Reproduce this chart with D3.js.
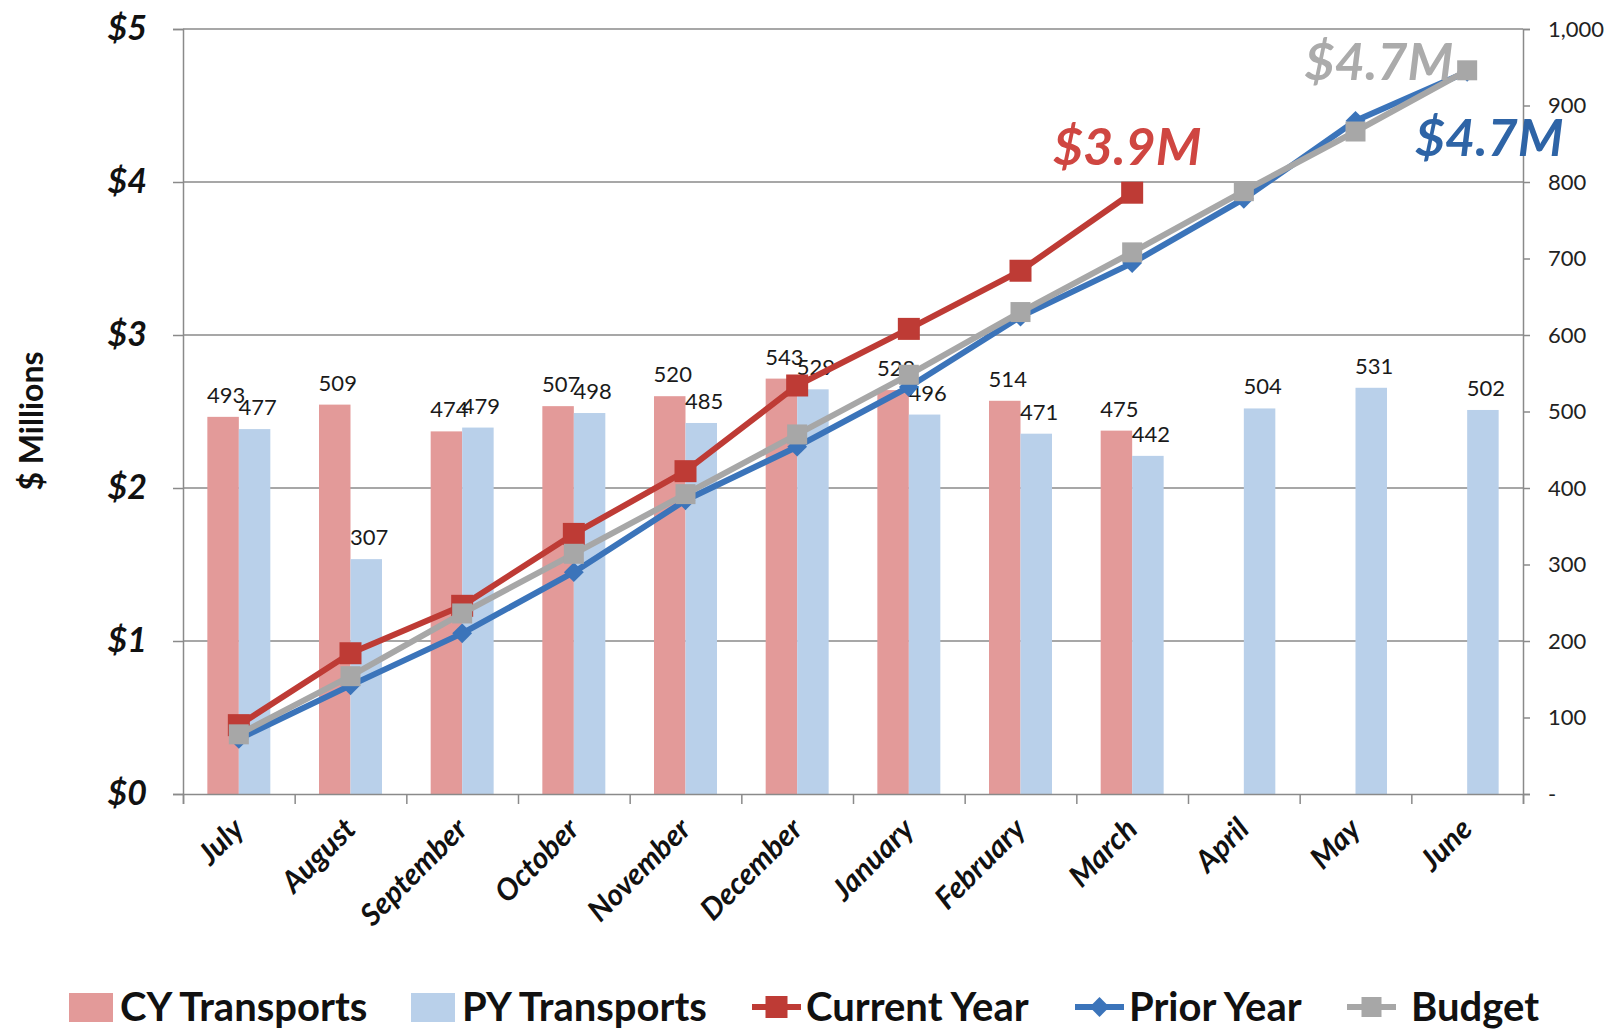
<!DOCTYPE html>
<html><head><meta charset="utf-8">
<script src="https://cdn.jsdelivr.net/npm/d3@7"></script>
<style>
  body { margin: 0; background: #fff; }
  svg { display: block; }
  text { font-family: Lato, "Open Sans", sans-serif; }
</style>
</head><body>
<svg id="chart" width="1610" height="1029"></svg>
<script>
// Monthly transports (bars, right axis) and cumulative spend in $ millions (lines, left axis)
const months = ["July", "August", "September", "October", "November", "December",
                "January", "February", "March", "April", "May", "June"];
const cyTransports = [493, 509, 474, 507, 520, 543, 528, 514, 475, null, null, null];
const pyTransports = [477, 307, 479, 498, 485, 529, 496, 471, 442, 504, 531, 502];
const currentYear  = [0.45, 0.92, 1.23, 1.70, 2.11, 2.67, 3.04, 3.42, 3.93, null, null, null];
const priorYear    = [0.36, 0.71, 1.05, 1.45, 1.92, 2.27, 2.66, 3.12, 3.47, 3.89, 4.40, 4.72];
const budget       = [0.39, 0.77, 1.18, 1.57, 1.96, 2.35, 2.74, 3.15, 3.54, 3.94, 4.33, 4.73];
const dollarTicks  = [0, 1, 2, 3, 4, 5];
const countTicks   = [0, 100, 200, 300, 400, 500, 600, 700, 800, 900, 1000];
const legendItems  = ["CY Transports", "PY Transports", "Current Year", "Prior Year", "Budget"];

const W = 1610, H = 1029;
const m = { left: 183, right: 87, top: 29, bottom: 235 };
const svg = d3.select("#chart");

const x = d3.scaleBand().domain(months).range([m.left, W - m.right]).padding(0);
const xEdge = d3.scaleLinear().domain([0, months.length]).range([m.left, W - m.right]);
const yL = d3.scaleLinear().domain([0, 5]).range([H - m.bottom, m.top]);
const yR = d3.scaleLinear().domain([0, 1000]).range([H - m.bottom, m.top]);
const sub = d3.scaleBand().domain(["cy", "py"]).range([0, x.bandwidth() * 0.564]);
const subOff = (x.bandwidth() - x.bandwidth() * 0.564) / 2;

const C = {
  cyBar: "#E39A99", pyBar: "#B9D0EA",
  red: "#BE3B35", blue: "#3B74BA", gray: "#A7A7A7",
  redLbl: "#CF4641", blueLbl: "#2E64A6", grayLbl: "#ABABAB",
  grid: "#8A8A8A"
};

// gridlines
svg.append("g").selectAll("line").data(dollarTicks.filter(d => d > 0)).join("line")
  .attr("x1", m.left).attr("x2", W - m.right)
  .attr("y1", d => yL(d)).attr("y2", d => yL(d))
  .attr("stroke", C.grid).attr("stroke-width", 1.5);

// bars
const bars = svg.append("g");
const barSeries = [["cy", cyTransports, C.cyBar], ["py", pyTransports, C.pyBar]];
barSeries.forEach(([key, vals, col]) => {
  bars.selectAll(null).data(vals.map((v, i) => ({ v, i })).filter(d => d.v != null)).join("rect")
    .attr("x", d => x(months[d.i]) + subOff + sub(key))
    .attr("width", sub.bandwidth())
    .attr("y", d => yR(d.v))
    .attr("height", d => yR(0) - yR(d.v))
    .attr("fill", col);
});
barSeries.forEach(([key, vals]) => {
  bars.selectAll(null).data(vals.map((v, i) => ({ v, i })).filter(d => d.v != null)).join("text")
    .attr("x", d => x(months[d.i]) + subOff + sub(key) + sub.bandwidth() / 2 + 3)
    .attr("y", d => yR(d.v) - 14)
    .attr("text-anchor", "middle")
    .attr("font-size", 22).attr("fill", "#1a1a1a")
    .text(d => d.v);
});

// axes
const axL = svg.append("g").attr("transform", `translate(${m.left},0)`)
  .call(d3.axisLeft(yL).tickValues(dollarTicks).tickSize(10).tickPadding(26).tickFormat(d => "$" + d));
axL.selectAll("text").attr("font-size", 34).attr("font-weight", 700).attr("font-style", "italic").attr("fill", "#111");

const axR = svg.append("g").attr("transform", `translate(${W - m.right},0)`)
  .call(d3.axisRight(yR).tickValues(countTicks).tickSize(7).tickPadding(18)
    .tickFormat(d => d === 0 ? "-" : d3.format(",")(d)));
axR.selectAll("text").attr("font-size", 22).attr("fill", "#222");

const axB = svg.append("g").attr("transform", `translate(0,${H - m.bottom})`)
  .call(d3.axisBottom(xEdge).tickValues(d3.range(months.length + 1)).tickSize(10).tickFormat(""));

[axL, axR, axB].forEach(a => {
  a.select(".domain").attr("stroke", C.grid).attr("stroke-width", 1.5);
  a.selectAll(".tick line").attr("stroke", C.grid).attr("stroke-width", 1.5);
});

// month labels
svg.append("g").selectAll("text").data(months).join("text")
  .attr("transform", d => `translate(${x(d) + x.bandwidth() / 2 + 7},${H - m.bottom + 37}) rotate(-45)`)
  .attr("text-anchor", "end")
  .attr("font-size", 30).attr("font-weight", 700).attr("font-style", "italic").attr("fill", "#111")
  .text(d => d);

// y title
svg.append("text")
  .attr("transform", `translate(43,421) rotate(-90)`)
  .attr("text-anchor", "middle")
  .attr("font-size", 32).attr("font-weight", 700).attr("fill", "#111")
  .text("$ Millions");

// cumulative lines
const cx = i => x(months[i]) + x.bandwidth() / 2;
const line = d3.line().defined(d => d != null).x((d, i) => cx(i)).y(d => yL(d));
const lineSeries = [
  { vals: currentYear, col: C.red, marker: "square", size: 22 },
  { vals: priorYear, col: C.blue, marker: "diamond", size: 14 },
  { vals: budget, col: C.gray, marker: "square", size: 20 }
];
function drawMarker(g, kind, size, col, px, py) {
  if (kind === "square") {
    g.append("rect").attr("x", px - size / 2).attr("y", py - size / 2)
      .attr("width", size).attr("height", size).attr("fill", col);
  } else {
    g.append("rect").attr("x", -size / 2).attr("y", -size / 2)
      .attr("width", size).attr("height", size).attr("fill", col)
      .attr("transform", `translate(${px},${py}) rotate(45)`);
  }
}
lineSeries.forEach(s => {
  const g = svg.append("g");
  g.append("path").datum(s.vals).attr("d", line)
    .attr("fill", "none").attr("stroke", s.col).attr("stroke-width", 6).attr("stroke-linejoin", "round");
  s.vals.forEach((v, i) => { if (v != null) drawMarker(g, s.marker, s.size, s.col, cx(i), yL(v)); });
});

// end-of-series value callouts
const lastIdx = arr => arr.reduce((a, v, i) => v != null ? i : a, -1);
const fmtM = v => "$" + v.toFixed(1) + "M";
const callouts = [
  { vals: currentYear, col: C.redLbl, dx: -5, dy: -28, anchor: "middle" },
  { vals: budget, col: C.grayLbl, dx: -14, dy: 10, anchor: "end" },
  { vals: priorYear, col: C.blueLbl, dx: 22, dy: 84, anchor: "middle" }
];
callouts.forEach(c => {
  const i = lastIdx(c.vals);
  svg.append("text")
    .attr("x", cx(i) + c.dx).attr("y", yL(c.vals[i]) + c.dy)
    .attr("text-anchor", c.anchor)
    .attr("font-size", 52).attr("font-weight", 700).attr("font-style", "italic")
    .attr("fill", c.col)
    .text(fmtM(c.vals[i]));
});

// legend
const legendX = [69, 411, 752, 1075, 1347];
const lg = svg.append("g").attr("transform", "translate(0,1007)");
legendItems.forEach((name, k) => {
  const g = lg.append("g").attr("transform", `translate(${legendX[k]},0)`);
  let textX;
  if (k < 2) {
    g.append("rect").attr("x", 0).attr("y", -14).attr("width", 44).attr("height", 29)
      .attr("fill", k === 0 ? C.cyBar : C.pyBar);
    textX = 51;
  } else {
    const s = lineSeries[k - 2];
    g.append("line").attr("x1", 0).attr("x2", 49).attr("y1", 0).attr("y2", 0)
      .attr("stroke", s.col).attr("stroke-width", 6);
    drawMarker(g, s.marker, s.size, s.col, 24.5, 0);
    textX = k === 4 ? 64 : 54;
  }
  g.append("text").attr("x", textX).attr("y", 14)
    .attr("font-size", 40).attr("font-weight", 700).attr("fill", "#111")
    .text(name);
});
</script>
</body></html>
